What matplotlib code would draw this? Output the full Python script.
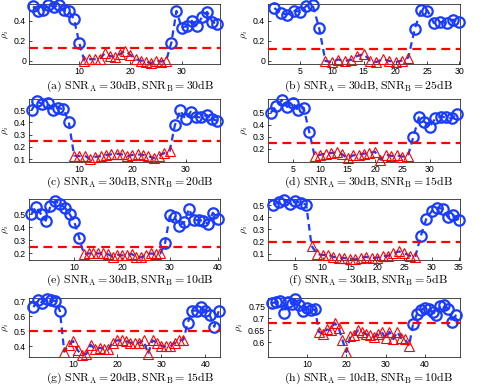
import numpy as np
import matplotlib
matplotlib.use('Agg')
import matplotlib.pyplot as plt

plt.rcParams['mathtext.fontset'] = 'cm'
plt.rcParams['font.family'] = ['Liberation Sans', 'DejaVu Sans']

# rho_i per panel, x = 1..N
rho_a = [0.547, 0.50, 0.507, 0.563, 0.54, 0.557, 0.507, 0.497, 0.417, 0.18,
         0.0, 0.013, 0.013, 0.013, 0.073, 0.047, 0.033, 0.067, 0.097, 0.057, 0.013, 0.0, -0.01, -0.027, 0.0, -0.01, 0.0,
         0.18, 0.50, 0.333, 0.347, 0.40, 0.347, 0.44, 0.49, 0.39, 0.367]
rho_b = [0.53, 0.477, 0.465, 0.503, 0.494, 0.55, 0.56, 0.335,
         0.0, -0.01, 0.015, 0.0, 0.01, 0.05, 0.07, 0.005, -0.01, 0.02, 0.0, -0.01, 0.005, 0.035,
         0.32, 0.51, 0.505, 0.38, 0.39, 0.38, 0.413, 0.387]
rho_c = [0.50, 0.57, 0.55, 0.555, 0.50, 0.52, 0.505, 0.405,
         0.13, 0.125, 0.13, 0.10, 0.12, 0.125, 0.135, 0.14, 0.145, 0.14, 0.125, 0.135, 0.14, 0.135, 0.125, 0.11, 0.13, 0.15, 0.165,
         0.378, 0.497, 0.426, 0.487, 0.444, 0.44, 0.46, 0.426, 0.413]
rho_d = [0.50, 0.557, 0.603, 0.549, 0.581, 0.52, 0.543, 0.344,
         0.14, 0.15, 0.16, 0.165, 0.17, 0.155, 0.12, 0.145, 0.15, 0.16, 0.165, 0.175, 0.11, 0.15, 0.14, 0.145, 0.135, 0.14,
         0.30, 0.462, 0.426, 0.385, 0.453, 0.467, 0.462, 0.453, 0.489]
rho_e = [0.50, 0.555, 0.50, 0.45, 0.56, 0.60, 0.575, 0.55, 0.50, 0.44, 0.32,
         0.195, 0.20, 0.20, 0.20, 0.20, 0.195, 0.175, 0.19, 0.185, 0.19, 0.195, 0.175, 0.17, 0.19, 0.20, 0.195, 0.20,
         0.28, 0.49, 0.475, 0.41, 0.44, 0.54, 0.455, 0.455, 0.45, 0.425, 0.51, 0.465]
rho_f = [0.503, 0.524, 0.543, 0.51, 0.53, 0.52, 0.503,
         0.165, 0.10, 0.09, 0.095, 0.075, 0.07, 0.065, 0.06, 0.055, 0.07, 0.075, 0.065, 0.07, 0.08, 0.085, 0.105, 0.12, 0.105, 0.085, 0.075,
         0.245, 0.385, 0.45, 0.48, 0.47, 0.40, 0.42, 0.375]
rho_g = [0.66, 0.705, 0.69, 0.715, 0.705, 0.70, 0.635,
         0.365, 0.41, 0.435, 0.375, 0.345, 0.35, 0.41, 0.38, 0.39, 0.385, 0.38, 0.425, 0.44, 0.44, 0.435, 0.425, 0.42,
         0.425, 0.44, 0.35, 0.44, 0.425, 0.405, 0.40, 0.40, 0.425, 0.44, 0.445,
         0.557, 0.637, 0.637, 0.658, 0.637, 0.605, 0.53, 0.633]
rho_h = [0.765, 0.768, 0.772, 0.725, 0.768, 0.762, 0.78, 0.755, 0.73, 0.745, 0.735, 0.738,
         0.644, 0.634, 0.654, 0.65, 0.681, 0.662, 0.609, 0.559, 0.625, 0.631, 0.65, 0.644, 0.634, 0.629, 0.621, 0.634,
         0.644, 0.616, 0.644, 0.613, 0.644, 0.616, 0.613, 0.584,
         0.675, 0.719, 0.734, 0.746, 0.741, 0.729, 0.716, 0.754, 0.756, 0.741, 0.684, 0.716]

# first / last x of the triangle (below threshold) segment
tri_span = [(11, 27), (9, 22), (9, 27), (9, 26), (12, 28), (8, 27), (8, 35), (13, 36)]
thresholds = [0.123, 0.123, 0.25, 0.25, 0.25, 0.2, 0.5, 0.68]
snr_a = [30, 30, 30, 30, 30, 30, 20, 10]
snr_b = [30, 25, 20, 15, 10, 5, 15, 10]
letters = ['a', 'b', 'c', 'd', 'e', 'f', 'g', 'h']
all_rho = [rho_a, rho_b, rho_c, rho_d, rho_e, rho_f, rho_g, rho_h]

# axes limits and ticks
xlims = [(0.2, 37.5), (0, 30.1), (0.5, 36.5), (0.5, 35.5), (0.5, 40.5), (0, 35.2), (0, 43.3), (0, 49)]
ylims = [(-0.035, 0.57), (-0.03, 0.57), (0.078, 0.59), (0.09, 0.615), (0.15, 0.615), (0.05, 0.55), (0.33, 0.72), (0.538, 0.786)]
yticks = [[0, 0.2, 0.4], [0, 0.2, 0.4], [0.1, 0.2, 0.3, 0.4, 0.5], [0.2, 0.3, 0.4, 0.5],
          [0.2, 0.3, 0.4, 0.5], [0.1, 0.2, 0.3, 0.4, 0.5], [0.4, 0.5, 0.6, 0.7], [0.6, 0.65, 0.7, 0.75]]
xticks = [[10, 20, 30], [5, 10, 15, 20, 25, 30], [10, 20, 30], [5, 10, 15, 20, 25, 30],
          [10, 20, 30, 40], [5, 10, 15, 20, 25, 30, 35], [10, 20, 30, 40], [10, 20, 30, 40]]

W, H = 485, 388
fig = plt.figure(figsize=(W / 100, H / 100), dpi=100)

cols = [(29, 191), (268, 192)]
rows = [(4, 64), (99, 162), (199, 260), (298, 357)]
cap_y = [86, 182, 280, 378]
cap_x = [130, 368]

blue = '#1a3cff'
for i in range(8):
    r, c = divmod(i, 2)
    left, width = cols[c]
    top, bottom = rows[r]
    ax = fig.add_axes([left / W, 1 - bottom / H, width / W, (bottom - top) / H])
    rho = np.array(all_rho[i])
    x = np.arange(1, len(rho) + 1)
    t0, t1 = tri_span[i]
    below = (x >= t0) & (x <= t1)

    ax.plot(x, rho, color=blue, lw=1.6, linestyle=(0, (3, 2)), zorder=2)
    ax.plot(x[~below], rho[~below], 'o', mec=blue, mfc='none', mew=1.6, ms=7.5, clip_on=False, zorder=3)
    ax.plot(x[below], rho[below], '^', mec='red', mfc='none', mew=0.8, ms=7.5, clip_on=False, zorder=3)
    ax.axhline(thresholds[i], color='red', lw=1.6, linestyle=(0, (4, 2.5)), zorder=4)

    ax.set_xlim(xlims[i])
    ax.set_ylim(ylims[i])
    ax.set_xticks(xticks[i])
    ax.set_yticks(yticks[i])
    ax.set_yticklabels([('%g' % v) for v in yticks[i]])
    ax.tick_params(direction='in', length=2, width=0.5, labelsize=6.3, pad=2)
    for s in ax.spines.values():
        s.set_linewidth(0.5)
    ax.set_ylabel(r'$\rho_i$', fontsize=7, labelpad=2)

    cap = r'$\mathrm{(%s)\ SNR_A}=%d\mathrm{dB},\mathrm{SNR_B}=%d\mathrm{dB}$' % (letters[i], snr_a[i], snr_b[i])
    fig.text(cap_x[c] / W, 1 - cap_y[r] / H, cap, ha='center', va='center', fontsize=8.5)

fig.savefig('out.png', dpi=100)
